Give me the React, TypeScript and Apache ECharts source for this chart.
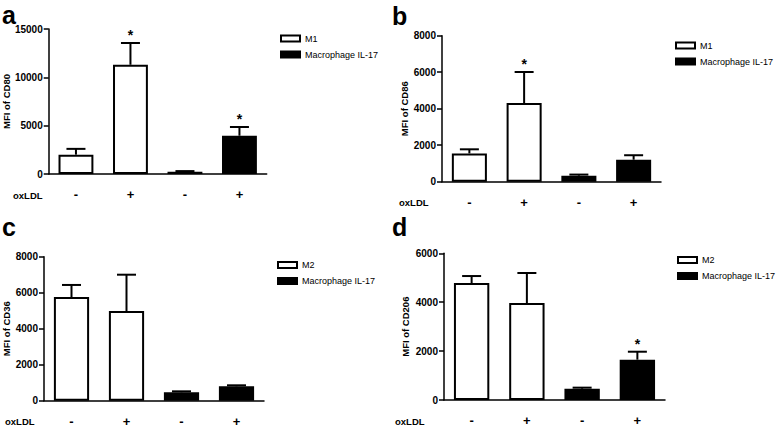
import React, { useEffect, useRef } from "react";
import * as echarts from "echarts";

const categories = ["-", "+", "-", "+"];

const aMeans = [2000, 11300, 240, 3960];
const aUpper = [2600, 13550, 300, 4860];
const aStars = [0, 1, 0, 1];

const bMeans = [1550, 4310, 330, 1205];
const bUpper = [1775, 6010, 390, 1450];
const bStars = [0, 1, 0, 0];

const cMeans = [5760, 4980, 470, 800];
const cUpper = [6430, 7000, 520, 855];
const cStars = [0, 0, 0, 0];

const dMeans = [4785, 3967, 462, 1650];
const dUpper = [5070, 5195, 505, 1975];
const dStars = [0, 0, 0, 1];

const FONT = "'Liberation Sans', Arial, sans-serif";

type Panel = {
  letter: string;
  yName: string;
  ctrl: string;
  means: number[];
  upper: number[];
  stars: number[];
  max: number;
  interval: number;
  grid: { left: number; top: number; width: number; height: number };
  nameGap: number;
  letterPos: [number, number];
  oxPos: [number, number];
  legendPos: [number, number];
};

const panels: Panel[] = [
  {
    letter: "a", yName: "MFI of CD80", ctrl: "M1", means: aMeans, upper: aUpper, stars: aStars,
    max: 15000, interval: 5000, grid: { left: 47.7, top: 29, width: 219, height: 145 },
    nameGap: 28, letterPos: [2, 2], oxPos: [13, 195], legendPos: [280, 33],
  },
  {
    letter: "b", yName: "MFI of CD86", ctrl: "M1", means: bMeans, upper: bUpper, stars: bStars,
    max: 8000, interval: 2000, grid: { left: 442, top: 35.7, width: 219, height: 146 },
    nameGap: 32, letterPos: [392, 3], oxPos: [399, 202.7], legendPos: [675, 40],
  },
  {
    letter: "c", yName: "MFI of CD36", ctrl: "M2", means: cMeans, upper: cUpper, stars: cStars,
    max: 8000, interval: 2000, grid: { left: 44, top: 256.7, width: 220, height: 144 },
    nameGap: 30, letterPos: [2, 214], oxPos: [5, 421.5], legendPos: [277, 259.5],
  },
  {
    letter: "d", yName: "MFI of CD206", ctrl: "M2", means: dMeans, upper: dUpper, stars: dStars,
    max: 6000, interval: 2000, grid: { left: 444, top: 253.3, width: 221, height: 146.7 },
    nameGap: 34, letterPos: [392, 214], oxPos: [395, 421.5], legendPos: [677, 254.5],
  },
];

export default function App() {
  const ref = useRef<HTMLDivElement>(null);

  useEffect(() => {
    if (!ref.current) return;
    const chart = echarts.init(ref.current, undefined, { renderer: "svg" });

    const grids: any[] = [];
    const xAxes: any[] = [];
    const yAxes: any[] = [];
    const series: any[] = [];
    const legends: any[] = [];
    const graphics: any[] = [];

    panels.forEach((p, i) => {
      grids.push({ ...p.grid, containLabel: false });
      xAxes.push({
        type: "category",
        gridIndex: i,
        data: categories,
        axisLine: { lineStyle: { color: "#000", width: 1.5 } },
        axisTick: { alignWithLabel: true, length: 5, lineStyle: { color: "#000", width: 1.5 } },
        axisLabel: { color: "#000", fontSize: 13, fontWeight: "bold", fontFamily: FONT, margin: 14 },
      });
      yAxes.push({
        type: "value",
        gridIndex: i,
        min: 0,
        max: p.max,
        interval: p.interval,
        name: p.yName,
        nameLocation: "middle",
        nameGap: p.nameGap,
        nameTextStyle: { color: "#000", fontSize: 9.5, fontWeight: "bold", fontFamily: FONT },
        splitLine: { show: false },
        axisLine: { show: true, lineStyle: { color: "#000", width: 1.5 } },
        axisTick: { show: true, length: 5, lineStyle: { color: "#000", width: 1.5 } },
        axisLabel: {
          color: "#000",
          fontSize: 10,
          fontWeight: "bold",
          fontFamily: FONT,
          margin: 6,
          formatter: (v: number) => String(v),
        },
      });
      const ctrlData = p.means.map((v, k) => (k < 2 ? v : "-"));
      const ilData = p.means.map((v, k) => (k >= 2 ? v : "-"));
      series.push({
        type: "bar",
        name: p.ctrl,
        xAxisIndex: i,
        yAxisIndex: i,
        data: ctrlData,
        barWidth: "64%",
        barGap: "-100%",
        itemStyle: { color: "#fff", borderColor: "#000", borderWidth: 2 },
      });
      series.push({
        type: "bar",
        name: "Macrophage IL-17",
        xAxisIndex: i,
        yAxisIndex: i,
        data: ilData,
        barWidth: "64%",
        barGap: "-100%",
        itemStyle: { color: "#000", borderColor: "#000", borderWidth: 2 },
      });
      series.push({
        type: "custom",
        xAxisIndex: i,
        yAxisIndex: i,
        z: 5,
        encode: { x: 0, y: [1, 2] },
        data: p.means.map((m, k) => [k, m, p.upper[k], p.stars[k]]),
        renderItem: (params: any, api: any) => {
          const x = api.value(0);
          const m = api.value(1);
          const u = api.value(2);
          const s = api.value(3);
          const p0 = api.coord([x, m]);
          const p1 = api.coord([x, u]);
          const half = 9.5;
          const st = { stroke: "#000", lineWidth: 2 };
          const children: any[] = [
            { type: "line", shape: { x1: p0[0], y1: p0[1], x2: p1[0], y2: p1[1] }, style: st },
            { type: "line", shape: { x1: p1[0] - half, y1: p1[1], x2: p1[0] + half, y2: p1[1] }, style: st },
          ];
          if (s) {
            children.push({
              type: "text",
              x: p1[0],
              y: p1[1] - 8,
              style: {
                text: "*",
                fill: "#000",
                font: `bold 14px ${FONT}`,
                align: "center",
                verticalAlign: "middle",
              },
            });
          }
          return { type: "group", children };
        },
      });
      legends.push({
        orient: "vertical",
        left: p.legendPos[0],
        top: p.legendPos[1],
        padding: 0,
        itemGap: 5,
        itemWidth: 19,
        itemHeight: 6,
        icon: "rect",
        selectedMode: false,
        textStyle: { color: "#000", fontSize: 9, fontFamily: FONT, lineHeight: 11 },
        data: [
          { name: p.ctrl, itemStyle: { color: "#fff", borderColor: "#000", borderWidth: 2 } },
          { name: "Macrophage IL-17", itemStyle: { color: "#000", borderColor: "#000", borderWidth: 2 } },
        ],
      });
      graphics.push({
        type: "text",
        left: p.letterPos[0],
        top: p.letterPos[1],
        style: { text: p.letter, fill: "#000", font: `bold 25px ${FONT}` },
      });
      graphics.push({
        type: "text",
        x: p.oxPos[0],
        y: p.oxPos[1],
        style: {
          text: "oxLDL",
          fill: "#000",
          font: `bold 9.5px ${FONT}`,
          align: "left",
          verticalAlign: "middle",
        },
      });
    });

    chart.setOption({
      animation: false,
      backgroundColor: "#fff",
      grid: grids,
      xAxis: xAxes,
      yAxis: yAxes,
      legend: legends,
      series,
      graphic: graphics,
    });

    return () => chart.dispose();
  }, []);

  return (
    <div
      ref={ref}
      style={{ position: "fixed", left: 0, top: 0, width: 778, height: 428 }}
    />
  );
}
